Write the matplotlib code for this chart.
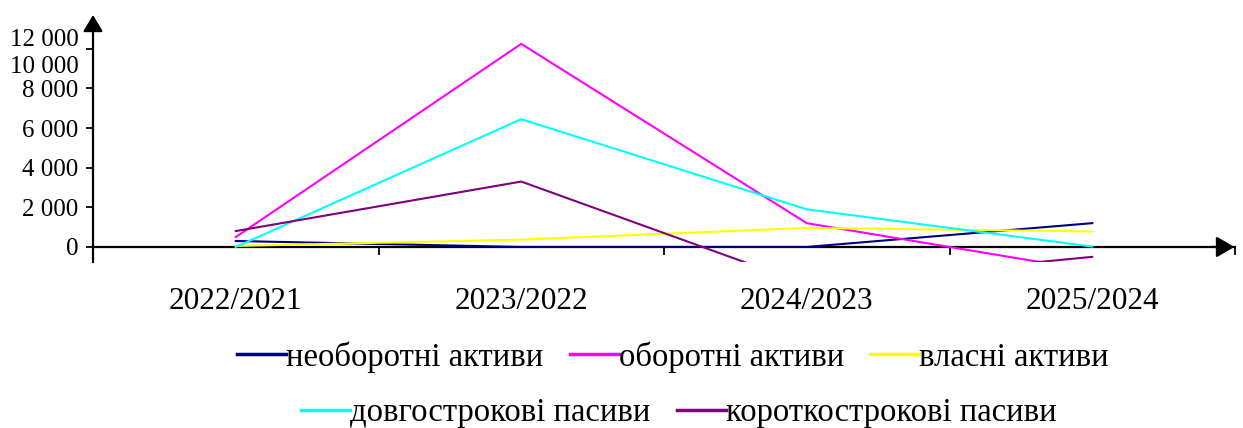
import matplotlib
matplotlib.use("Agg")
import matplotlib.pyplot as plt
from matplotlib.transforms import blended_transform_factory

# Year-over-year changes by balance item
periods = ["2022/2021", "2023/2022", "2024/2023", "2025/2024"]

non_current_assets = [300, 0, 0, 1200]
current_assets = [500, 10250, 1200, -1200]
own_assets = [50, 370, 960, 780]
long_term_liabilities = [0, 6450, 1900, 20]
short_term_liabilities = [800, 3300, -1900, -500]

series_names = ["необоротні активи", "оборотні активи", "власні активи",
                "довгострокові пасиви", "короткострокові пасиви"]
series_colors = ["#000080", "#FF00FF", "#FFFF00", "#00FFFF", "#800080"]

ytick_values = [0, 2000, 4000, 6000, 8000, 10000]
ytick_labels = ["0", "2 000", "4 000", "6 000", "8 000", "10 000", "12 000"]
ytick_label_pos = [0, 2000, 4000, 6000, 8000, 9200, 10550]

plt.rcParams["font.family"] = ["Liberation Serif", "DejaVu Serif"]

W, H = 1243, 428
fig = plt.figure(figsize=(W / 100, H / 100), dpi=100)
ax = fig.add_axes([93 / W, 166 / H, 1142 / W, (262 - 29) / H])

all_series = [non_current_assets, current_assets, own_assets,
              long_term_liabilities, short_term_liabilities]
x = list(range(len(periods)))
handles = []
for vals, name, col in zip(all_series, series_names, series_colors):
    (ln,) = ax.plot(x, vals, color=col, lw=1.5, label=name, zorder=3)
    handles.append(ln)

ax.set_xlim(-0.5, len(periods) - 0.5)
ax.set_ylim(-760, 11000)

# axes: y spine on the left, x spine through zero
for s in ("top", "right"):
    ax.spines[s].set_visible(False)
ax.spines["bottom"].set_position(("data", 0))
ax.spines["bottom"].set_linewidth(1.6)
ax.spines["left"].set_linewidth(1.6)

# arrow heads at axis ends
ax.annotate("", xy=(0, 1.06), xycoords="axes fraction",
            xytext=(0, 0.99), textcoords="axes fraction",
            arrowprops=dict(arrowstyle="-|>,head_length=0.5,head_width=0.3",
                            color="black", lw=1.6, shrinkA=0, shrinkB=0,
                            mutation_scale=20), annotation_clip=False)
tr = blended_transform_factory(ax.transAxes, ax.transData)
ax.annotate("", xy=(0.9995, 0), xycoords=tr, xytext=(0.98, 0), textcoords=tr,
            arrowprops=dict(arrowstyle="-|>,head_length=0.55,head_width=0.32",
                            color="black", lw=1.6, shrinkA=0, shrinkB=0,
                            mutation_scale=20), annotation_clip=False)

# y ticks: marks on major, labels on minor
ax.yaxis.remove_overlapping_locs = False
ax.set_yticks(ytick_values)
ax.set_yticklabels([])
ax.set_yticks(ytick_label_pos, minor=True)
ax.set_yticklabels(ytick_labels, minor=True)
ax.tick_params(axis="y", which="major", direction="out", length=5, width=1.3)
ax.tick_params(axis="y", which="minor", length=0, pad=10.5, labelsize=18)

# x ticks: marks between periods, labels under each period
ax.set_xticks([i + 0.5 for i in x])
ax.set_xticklabels([])
ax.set_xticks(x, minor=True)
ax.set_xticklabels(periods, minor=True)
ax.tick_params(axis="x", which="major", direction="out", length=6, width=1.3)
ax.tick_params(axis="x", which="minor", length=0, pad=29, labelsize=22.5)

# legend in two centred rows
leg_kw = dict(frameon=False, fontsize=23.5, handlelength=1.5, handletextpad=0.0,
              columnspacing=0.8, borderaxespad=0, borderpad=0, loc="center")
leg1 = fig.legend(handles[:3], series_names[:3], ncol=3,
                  bbox_to_anchor=(673 / W, (H - 357) / H), **leg_kw)
leg2 = fig.legend(handles[3:], series_names[3:], ncol=2,
                  bbox_to_anchor=(679 / W, (H - 413) / H), **leg_kw)
for lg in (leg1, leg2):
    for h in lg.legend_handles:
        h.set_linewidth(2.5)

fig.savefig("out.png", dpi=100)
